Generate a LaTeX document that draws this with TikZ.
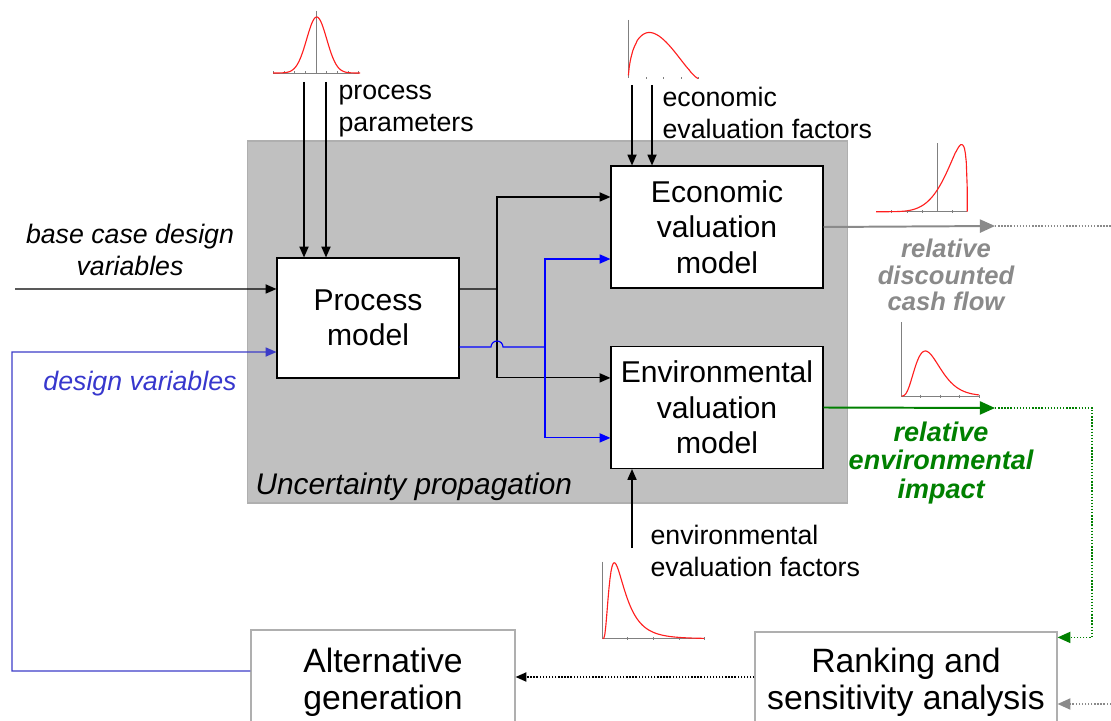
\documentclass[tikz,border=0pt]{standalone}
\usepackage{fontspec}
\setmainfont{Liberation Sans}
\usepackage{xcolor}
\usepackage{tikz}
\usetikzlibrary{positioning, arrows, arrows.meta, calc}

\definecolor{uncgray}{RGB}{192,192,192}
\definecolor{framegray}{RGB}{175,175,175}
\definecolor{fbblue}{RGB}{60,60,200}
\definecolor{labelblue}{RGB}{55,55,205}
\definecolor{cfgray}{RGB}{138,138,138}
\definecolor{envgreen}{RGB}{0,128,0}
\definecolor{axisgray}{RGB}{128,128,128}
\definecolor{pdfred}{RGB}{255,30,30}

\tikzstyle{block} = [rectangle, draw=black, fill=white, align=center,
    font=\fontsize{21.4}{25.3}\selectfont]
\tikzstyle{outblock} = [rectangle, draw=framegray, fill=white, align=center,
    font=\fontsize{24}{26}\selectfont]
\tikzstyle{uncbox} = [rectangle, draw=framegray, fill=uncgray]
\tikzstyle{lbl} = [inner sep=0pt, align=left, font=\fontsize{19}{22.4}\selectfont]
\tikzstyle{ilbl} = [inner sep=0pt, align=center, font=\fontsize{19}{22.4}\selectfont\itshape]
\tikzstyle{rlbl} = [inner sep=0pt, align=center, font=\fontsize{18.2}{18.6}\selectfont\bfseries\itshape]
\tikzstyle{axis} = [axisgray, line width=0.5pt]
\tikzstyle{pdf} = [pdfred, line width=0.8pt]
\tikzstyle{bigarrow} = [line width=1.4pt, -{Triangle[length=3.8mm,width=3.3mm]}]
\tikzstyle{dots} = [line width=1pt, dash pattern=on 1pt off 1.2pt]

\begin{document}
\begin{tikzpicture}[x=0.025cm, y=-0.025cm, line width=0.8pt,
    >={Triangle[length=2.7mm,width=2.3mm]}]
\useasboundingbox (0,0) rectangle (1111,721);
\clip (0,0) rectangle (1111,721);

% Nodes
\node [uncbox, minimum width=14.975cm, minimum height=9.05cm] (unc) at (547.5,322) {};
\node [anchor=west, inner sep=0pt, font=\fontsize{21.2}{25}\selectfont\itshape] (unclabel) at (255,487) {Uncertainty propagation};

\node [block, minimum width=4.55cm, minimum height=3cm] (proc) at (368,318) {Process\\model};
\node [block, minimum width=5.3cm, minimum height=3.05cm] (econ) at (717,227) {Economic\\valuation\\model};
\node [block, minimum width=5.3cm, minimum height=3.05cm] (env) at (717,407.5) {Environmental\\valuation\\model};
\node [outblock, minimum width=6.6cm, minimum height=2.6cm] (alt) at (383,682) {Alternative\\generation};
\node [outblock, minimum width=7.55cm, minimum height=2.5cm] (rank) at (906,682) {Ranking and\\sensitivity analysis};

% Labels
\node [lbl, anchor=west] (pplabel) at (338,111) {process\\parameters};
\node [lbl, anchor=west] (eflabel) at (662,113) {economic\\evaluation factors};
\node [lbl, anchor=west] (enflabel) at (650,551) {environmental\\evaluation factors};
\node [ilbl] (bclabel) at (130,250) {base case design\\variables};
\node [ilbl, text=labelblue] (dvlabel) at (140,384) {design variables};
\node [rlbl, text=cfgray] (cflabel) at (946,275) {relative\\discounted\\cash flow};
\node [rlbl, text=envgreen, font=\fontsize{19.2}{20.6}\selectfont\bfseries\itshape] (eilabel) at (941,463) {relative\\environmental\\impact};

% Free ends
\coordinate (bcin) at (15,289);
\coordinate (fbturn) at (12,352);
\coordinate (pp1) at (304,82);
\coordinate (pp2) at (326,82);
\coordinate (ef1) at (632,85);
\coordinate (ef2) at (652,85);
\coordinate (enf) at (632,548);
\coordinate (bsplit) at (497,289);
\coordinate (bhop) at (491,347);
\coordinate (vsplit) at (545,347);
\coordinate (cfend) at (995,226);
\coordinate (cfout) at (1111,226);
\coordinate (eiend) at (995,408);
\coordinate (eiturn) at (1092,408);
\coordinate (rankin) at (1111,704);

% Connections
\draw [->] (bcin) -- ([yshift=0.725cm]proc.west);
\draw [fbblue, ->] ([yshift=0.275cm]alt.west) -| (fbturn) -- ([yshift=-0.85cm]proc.west);
\draw [->] (pp1) -- (pp1 |- proc.north);
\draw [->] (pp2) -- (pp2 |- proc.north);
\draw [->] (ef1) -- (ef1 |- econ.north);
\draw [->] (ef2) -- (ef2 |- econ.north);
\draw [->] (enf) -- (enf |- env.south);

\draw ([yshift=0.725cm]proc.east) -- (bsplit);
\draw [->] (bsplit) |- ([yshift=0.75cm]econ.west);
\draw [->] (bsplit) |- ([yshift=0.74cm]env.west);

\draw [blue] ([yshift=-0.725cm]proc.east) -- (bhop) arc[start angle=180, end angle=0, radius=0.15cm] -- (vsplit);
\draw [blue, ->] (vsplit) |- ([yshift=-0.8cm]econ.west);
\draw [blue, ->] (vsplit) |- ([yshift=-0.76cm]env.west);

\draw [cfgray, bigarrow] (econ.east) -- (cfend);
\draw [cfgray, dots] (cfend) -- (cfout);
\draw [envgreen, bigarrow] (env.east) -- (eiend);
\draw [envgreen, dots, -{Triangle[length=3.2mm,width=2.8mm]}] (eiend) -| (eiturn) |- ([yshift=-0.15cm]rank.north east);
\draw [cfgray, dots, -{Triangle[length=3.2mm,width=2.8mm]}] (rankin) -- (rankin -| rank.east);
\draw [dots, ->] ([yshift=0.125cm]rank.west) -- ([yshift=0.125cm]alt.east);

% Distributions
% process parameters
\draw [axis] (273,73) -- (358,73);
\draw [axis] (316.7,11) -- (316.7,73);
\foreach \t in {273.3,284,294.3,305.7,326.7,337.3,348.3,358.3}
    \draw [axis] (\t,71.5) -- (\t,74.5);
\draw [pdf] plot[domain=273:360, samples=80] (\x, {73-56*exp(-0.5*((\x-316.7)/10)*((\x-316.7)/10))});

% economic evaluation factors
\draw [axis] (628.3,20) -- (628.3,78.5);
\foreach \t in {646,663,681,698}
    \draw [axis] (\t,77.5) -- (\t,79.5);
\draw [pdf] plot[domain=628.4:698.2, samples=80] (\x, {78.5-46*(((\x-628.3)/70)^0.6)*((1-(\x-628.3)/70)^1.4)/0.2948});

% relative discounted cash flow
\draw [axis] (876,211.7) -- (967.3,211.7);
\draw [axis] (937.3,143.3) -- (937.3,211.7);
\foreach \t in {891.7,907.3,922.3,952.7}
    \draw [axis] (\t,210.2) -- (\t,213.2);
\draw [pdf] plot[domain=876.1:967.2, samples=100] (\x, {211.7-67*(((\x-876)/91.3)^5)*((1-(\x-876)/91.3)^0.33)/0.2898}) -- (967.3,211.7);

% relative environmental impact
\draw [axis] (901.3,396) -- (979,396);
\draw [axis] (901.3,322) -- (901.3,396);
\foreach \t in {920.3,940,959.3,979}
    \draw [axis] (\t,394.5) -- (\t,397.5);
\draw [pdf] plot[domain=901.5:979, samples=80] (\x, {396-45*(((\x-901.3)/24)^3.5)*exp(3.5*(1-(\x-901.3)/24))});

% environmental evaluation factors
\draw [axis] (602.3,638.7) -- (704.3,638.7);
\draw [axis] (602.3,561.7) -- (602.3,638.7);
\foreach \t in {627.7,653.3,679,704.3}
    \draw [axis] (\t,637.2) -- (\t,640.2);
\draw [pdf] plot[domain=602.8:704, samples=100] (\x, {638.7-76*exp(-(ln(\x-602.3)-2.9075)*(ln(\x-602.3)-2.9075)/0.845)/(\x-602.3)/0.06747});

\end{tikzpicture}
\end{document}
